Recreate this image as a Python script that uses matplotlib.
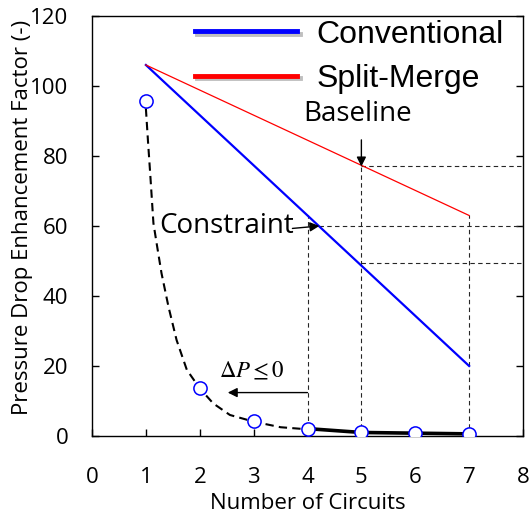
import matplotlib

matplotlib.use("Agg")

import matplotlib.patheffects as pe
import matplotlib.pyplot as plt

# values
circuits = [1, 2, 3, 4, 5, 6, 7]
enhancement = [95.7, 13.6, 4.2, 2.1, 1.0, 0.8, 0.6]

conv_x = [1, 7]
conv_y = [106, 20]
split_x = [1, 7]
split_y = [106, 63]

# dashed fit through the first points
fit_x = [1.0, 1.04, 1.08, 1.14, 1.20, 1.29, 1.42, 1.57, 1.76, 2.0, 2.25, 2.56, 3.0, 3.5, 4.0]
fit_y = [93.6, 84.0, 75.0, 60.8, 55.0, 46.5, 36.9, 27.4, 18.9, 13.6, 9.3, 6.0, 4.1, 2.5, 1.9]

baseline_level = 77
constraint_level = 60
conv_at_5 = 49.5
xticks = [0, 1, 2, 3, 4, 5, 6, 7, 8]
yticks = [0, 20, 40, 60, 80, 100, 120]

LABEL_FONT = "Open Sans"

fig = plt.figure(figsize=(5.30, 5.14), dpi=100)
ax = fig.add_axes([0.1736, 0.1518, 0.8132, 0.8171])
ax.set_xlim(0, 8)
ax.set_ylim(0, 120)

shadow = [pe.SimpleLineShadow(offset=(1.5, -1.5), shadow_color="0.5", alpha=0.5), pe.Normal()]
ax.plot(conv_x, conv_y, color="#0000ff", lw=1.6, label="Conventional", zorder=4)
ax.plot(split_x, split_y, color="#ff0000", lw=0.9, label="Split-Merge", zorder=4)

# guide lines
guide = dict(color="0.15", lw=0.8, ls=(0, (4, 3)), zorder=2)
ax.plot([4, 4], [0, 63], **guide)
ax.plot([5, 5], [0, baseline_level], **guide)
ax.plot([7, 7], [0, split_y[1]], **guide)
ax.plot([5, 8], [baseline_level, baseline_level], **guide)
ax.plot([4.22, 8], [constraint_level, constraint_level], **guide)
ax.plot([5, 8], [conv_at_5, conv_at_5], **guide)

# enhancement factor curve
ax.plot(fit_x, fit_y, color="k", lw=1.5, dashes=(4, 2.5), zorder=3)
ax.plot(circuits[3:], enhancement[3:], color="k", lw=2.6, zorder=3)
ax.plot(circuits, enhancement, "o", ms=9.5, mfc="white", mec="#0000ff", mew=1.1, zorder=5)

# annotations
arrow = dict(arrowstyle="-|>", color="k", lw=1.0, mutation_scale=14, shrinkA=0, shrinkB=0)
ax.annotate("", xy=(5, baseline_level), xytext=(5, 84.6), arrowprops=arrow, zorder=6)
ax.text(4.92, 92.0, "Baseline", fontsize=20, family=LABEL_FONT, ha="center", va="center")
ax.annotate("", xy=(4.22, constraint_level), xytext=(3.72, 59.3), arrowprops=arrow, zorder=6)
ax.text(2.49, 60.0, "Constraint", fontsize=20, family=LABEL_FONT, ha="center", va="center")
ax.annotate("", xy=(2.52, 12.4), xytext=(4, 12.4), arrowprops=arrow, zorder=6)
ax.text(2.97, 18.6, r"$\Delta P \leq 0$", fontsize=16.5, ha="center", va="center",
        math_fontfamily="stix")

leg = ax.legend(loc="upper right", bbox_to_anchor=(1.0, 1.037), frameon=False,
                prop={"family": "Liberation Sans", "size": 23},
                handlelength=3.2, handletextpad=0.6, labelspacing=0.45,
                borderaxespad=0.2)
for line in leg.get_lines():
    line.set_linewidth(3.5)
    line.set_path_effects(shadow)

ax.set_xticks(xticks)
ax.set_yticks(yticks)
ax.tick_params(axis="both", direction="in", length=5, width=1, labelsize=16)
ax.tick_params(axis="x", pad=22)
ax.tick_params(axis="y", pad=17, right=True)
for lab in ax.get_xticklabels() + ax.get_yticklabels():
    lab.set_family(LABEL_FONT)
for s in ax.spines.values():
    s.set_linewidth(1.0)

ax.set_xlabel("Number of Circuits", fontsize=16, family=LABEL_FONT)
ax.set_ylabel("Pressure Drop Enhancement Factor (-)", fontsize=16, family=LABEL_FONT)
ax.xaxis.set_label_coords(0.5, -0.136)
ax.yaxis.set_label_coords(-0.137, 0.52)

fig.savefig("out.png", dpi=100)
